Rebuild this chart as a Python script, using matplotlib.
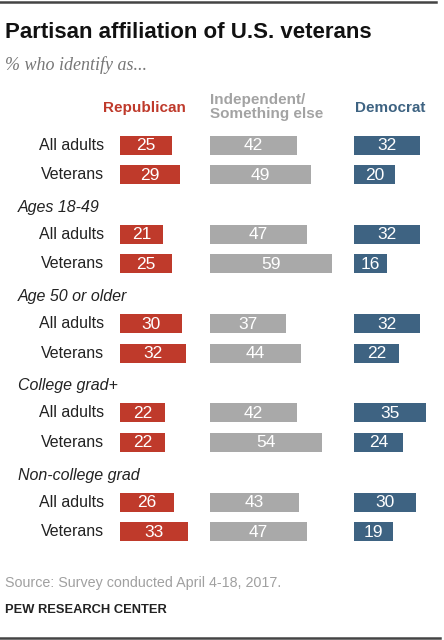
import numpy as np
import matplotlib.pyplot as plt

plt.rcParams['font.family'] = ['Liberation Sans', 'DejaVu Sans']

groups = ["", "Ages 18-49", "Age 50 or older", "College grad+", "Non-college grad"]
rows = ["All adults", "Veterans"]
republican = [25, 29, 21, 25, 30, 32, 22, 22, 26, 33]
independent = [42, 49, 47, 59, 37, 44, 42, 54, 43, 47]
democrat = [32, 20, 32, 16, 32, 22, 35, 24, 30, 19]

RED = '#BF3A2B'
GRAY = '#A9A9A9'
BLUE = '#3E6382'
W, H = 444, 640
PXU = 2.08  # pixels per percentage point

# row centres in pixels from top
ys = []
for g in range(len(groups)):
    y0 = 145 + 89.3 * g
    ys += [y0, y0 + 29.5]
ys = np.array(ys)

fig = plt.figure(figsize=(W / 100, H / 100), dpi=100)
bg = fig.add_axes([0, 0, 1, 1])
bg.set_xlim(0, W)
bg.set_ylim(H, 0)
bg.axis('off')


def column(left, width, vals, color):
    ax = fig.add_axes([left / W, 0, width / W, 1])
    ax.set_xlim(0, width / PXU)
    ax.set_ylim(H, 0)
    ax.axis('off')
    ax.barh(ys, vals, height=19, color=color, left=0)
    for y, v in zip(ys, vals):
        ax.text(v / 2, y + 0.5, str(v), color='white', fontsize=12.5,
                ha='center', va='center')
    return ax


column(119.5, 80, republican, RED)
column(209.5, 135, independent, GRAY)
column(353.5, 90, democrat, BLUE)

# headers
bg.text(144, 108, "Republican", color=RED, fontsize=11, fontweight='bold',
        ha='center', va='center')
bg.text(210, 107, "Independent/\nSomething else", color='#A3A3A3', fontsize=11,
        fontweight='bold', ha='left', va='center', linespacing=1.0)
bg.text(390, 108, "Democrat", color=BLUE, fontsize=11, fontweight='bold',
        ha='center', va='center')

# row and group labels
for i, y in enumerate(ys):
    bg.text(104, y, rows[i % 2], fontsize=11.5, color='#222222',
            ha='right', va='center')
for g, name in enumerate(groups):
    if name:
        bg.text(18, ys[2 * g] - 27, name, fontsize=11.5, style='italic',
                color='#222222', ha='left', va='center')

# title block
bg.plot([0, 436], [2, 2], color='#444444', lw=1.8, clip_on=False)
bg.text(5, 32, "Partisan affiliation of U.S. veterans", fontsize=16,
        fontweight='bold', color='#111111', ha='left', va='center')
bg.text(5, 65, "% who identify as...", fontsize=13, style='italic',
        family=['Liberation Serif', 'DejaVu Serif'], color='#777777',
        ha='left', va='center')

# footer
bg.text(5, 583, "Source: Survey conducted April 4-18, 2017.", fontsize=10.3,
        color='#A0A0A0', ha='left', va='center')
bg.text(5, 610, "PEW RESEARCH CENTER", fontsize=9.3, fontweight='bold',
        color='#222222', ha='left', va='center')
bg.plot([0, 440], [638, 638], color='#444444', lw=1.8, clip_on=False)

fig.savefig("out.png", dpi=100)
